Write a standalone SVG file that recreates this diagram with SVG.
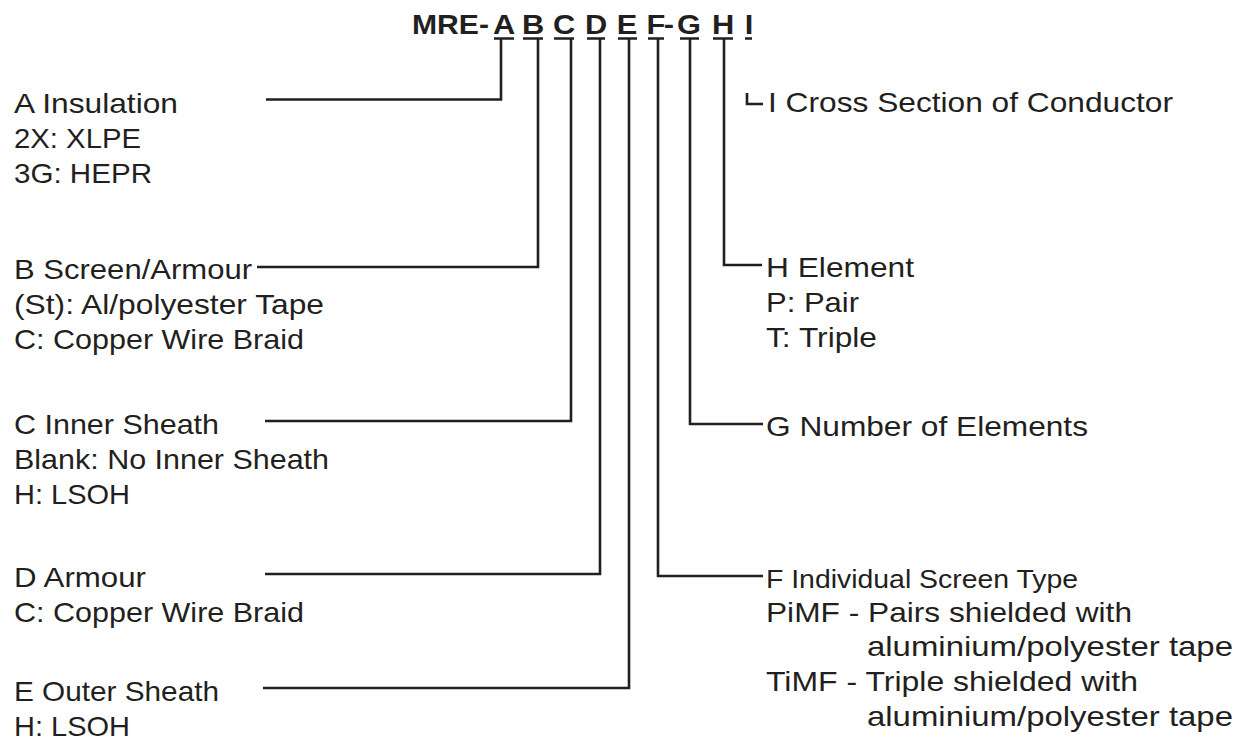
<svg xmlns="http://www.w3.org/2000/svg" width="1243" height="743" viewBox="0 0 1243 743">
<style>
.t{font-family:"Liberation Sans",Arial,Helvetica,sans-serif;font-size:28px;fill:#231f20}
.s{font-size:25px}
.b{font-weight:bold}
.c{fill:none;stroke:#231f20;stroke-width:2.6;stroke-linecap:butt;stroke-linejoin:miter}
</style>
<rect width="1243" height="743" fill="#ffffff"/>
<g id="title">
<text class="t b" x="412" y="34" textLength="77" lengthAdjust="spacingAndGlyphs">MRE-</text>
<text class="t b" text-anchor="middle" transform="translate(504 34) scale(1.1 1)">A</text>
<text class="t b" text-anchor="middle" transform="translate(533 34) scale(1.1 1)">B</text>
<text class="t b" text-anchor="middle" transform="translate(564 34) scale(1.1 1)">C</text>
<text class="t b" text-anchor="middle" transform="translate(596 34) scale(1.1 1)">D</text>
<text class="t b" text-anchor="middle" transform="translate(627 34) scale(1.1 1)">E</text>
<text class="t b" text-anchor="middle" transform="translate(656 34) scale(1.1 1)">F</text>
<text class="t b" text-anchor="middle" transform="translate(669 34) scale(1.1 1)">-</text>
<text class="t b" text-anchor="middle" transform="translate(689 34) scale(1.1 1)">G</text>
<text class="t b" text-anchor="middle" transform="translate(723 34) scale(1.1 1)">H</text>
<text class="t b" text-anchor="middle" transform="translate(749 34) scale(1.1 1)">I</text>
</g>
<g id="connectors">
<path class="c" d="M494 38.5H514M523 38.5H543M554 38.5H574M587 38.5H605M618 38.5H637M648 38.5H664M680 38.5H699M713 38.5H733M745 38.5H752"/>
<path class="c" d="M501 38.5V99.5H266"/>
<path class="c" d="M538 38.5V267H257"/>
<path class="c" d="M571 38.5V421H265"/>
<path class="c" d="M600 38.5V574H265"/>
<path class="c" d="M629 38.5V688H263"/>
<path class="c" d="M658 38.5V576H763"/>
<path class="c" d="M690 38.5V424H763"/>
<path class="c" d="M724 38.5V265H762"/>
<path class="c" d="M747 93V104H763"/>
</g>
<g id="nodeA">
<text class="t" x="14" y="113" textLength="164" lengthAdjust="spacingAndGlyphs">A Insulation</text>
<text class="t" x="14" y="148" textLength="127" lengthAdjust="spacingAndGlyphs">2X: XLPE</text>
<text class="t" x="14" y="183" textLength="138" lengthAdjust="spacingAndGlyphs">3G: HEPR</text>
</g>
<g id="nodeB">
<text class="t" x="14" y="279" textLength="238" lengthAdjust="spacingAndGlyphs">B Screen/Armour</text>
<text class="t" x="14" y="314" textLength="310" lengthAdjust="spacingAndGlyphs">(St): Al/polyester Tape</text>
<text class="t" x="14" y="349" textLength="290" lengthAdjust="spacingAndGlyphs">C: Copper Wire Braid</text>
</g>
<g id="nodeC">
<text class="t" x="14" y="434" textLength="205" lengthAdjust="spacingAndGlyphs">C Inner Sheath</text>
<text class="t" x="14" y="469" textLength="315" lengthAdjust="spacingAndGlyphs">Blank: No Inner Sheath</text>
<text class="t" x="14" y="504" textLength="116" lengthAdjust="spacingAndGlyphs">H: LSOH</text>
</g>
<g id="nodeD">
<text class="t" x="14" y="587" textLength="132" lengthAdjust="spacingAndGlyphs">D Armour</text>
<text class="t" x="14" y="622" textLength="290" lengthAdjust="spacingAndGlyphs">C: Copper Wire Braid</text>
</g>
<g id="nodeE">
<text class="t" x="14" y="701" textLength="205" lengthAdjust="spacingAndGlyphs">E Outer Sheath</text>
<text class="t" x="14" y="736" textLength="116" lengthAdjust="spacingAndGlyphs">H: LSOH</text>
</g>
<g id="nodeI">
<text class="t" x="768" y="112" textLength="405" lengthAdjust="spacingAndGlyphs">I Cross Section of Conductor</text>
</g>
<g id="nodeH">
<text class="t" x="766" y="277" textLength="148" lengthAdjust="spacingAndGlyphs">H Element</text>
<text class="t" x="766" y="312" textLength="93" lengthAdjust="spacingAndGlyphs">P: Pair</text>
<text class="t" x="766" y="347" textLength="111" lengthAdjust="spacingAndGlyphs">T: Triple</text>
</g>
<g id="nodeG">
<text class="t" x="766" y="436" textLength="322" lengthAdjust="spacingAndGlyphs">G Number of Elements</text>
</g>
<g id="nodeF">
<text class="t s" x="766" y="588" textLength="312" lengthAdjust="spacingAndGlyphs">F Individual Screen Type</text>
<text class="t" x="766" y="622" textLength="366" lengthAdjust="spacingAndGlyphs">PiMF - Pairs shielded with</text>
<text class="t" x="867" y="656" textLength="366" lengthAdjust="spacingAndGlyphs">aluminium/polyester tape</text>
<text class="t" x="766" y="691" textLength="372" lengthAdjust="spacingAndGlyphs">TiMF - Triple shielded with</text>
<text class="t" x="867" y="726" textLength="366" lengthAdjust="spacingAndGlyphs">aluminium/polyester tape</text>
</g>
</svg>
